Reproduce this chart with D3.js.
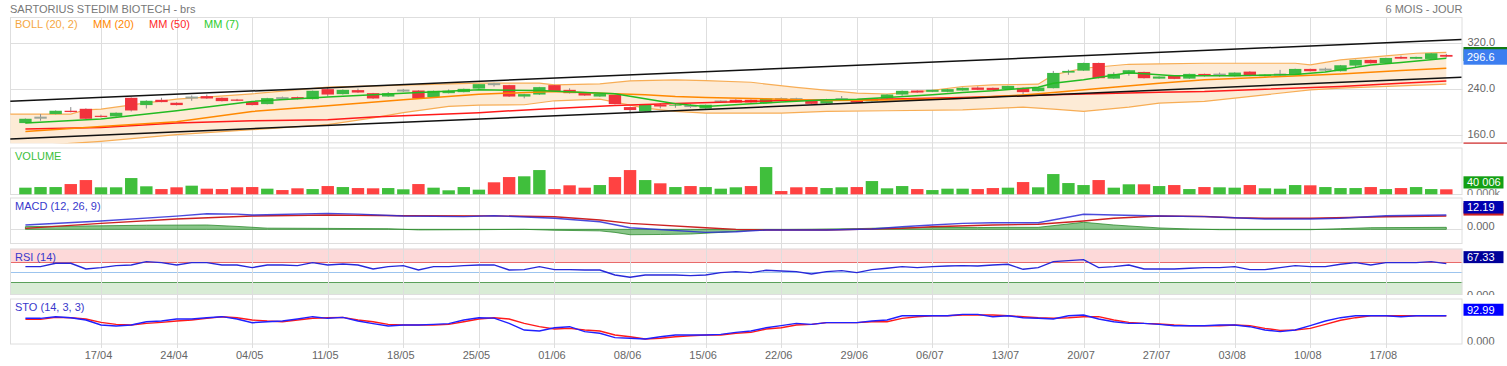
<!DOCTYPE html>
<html><head><meta charset="utf-8">
<script src="https://cdn.jsdelivr.net/npm/d3@7/dist/d3.min.js"></script>
<style>
body{margin:0;background:#fff;}
svg{display:block;font-family:"Liberation Sans",Arial,sans-serif;}
</style></head><body>
<svg id="c" width="1507" height="366"></svg>
<script>
// ---------------- DATA ----------------
const title = "SARTORIUS STEDIM BIOTECH - brs";
const period = "6 MOIS - JOUR";
const dateLabels = ["17/04","24/04","04/05","11/05","18/05","25/05","01/06","08/06","15/06","22/06","29/06","06/07","13/07","20/07","27/07","03/08","10/08","17/08"];
const dateLabelIdx = [5,10,15,20,25,30,35,40,45,50,55,60,65,70,75,80,85,90];
const priceTicks = [160,240,320];

const opens  = [180.8,189.8,196.5,202.3,205.7,193.5,192.4,224.9,212.2,221.4,216.2,225,227.8,224.9,221.9,217.9,213.9,224,226.1,222.6,240,231.3,238.3,233,227.1,237.3,237.6,226.1,233,234.8,241,248.4,247,227.1,230.6,247,238.8,233.6,227.1,230,208.7,201,212.7,211.2,210.2,206.3,218.2,221.4,221.4,215.6,222.3,222.3,220.2,215,222.3,221.4,219.1,223.7,230.6,237.6,235.3,235.3,237.6,242.8,242.3,240,242.3,236.5,241.7,268.9,272.3,285.7,258.4,266.6,270,258.4,263.1,258.4,266.6,265,262.6,270.6,262.6,265.2,265.4,275.3,273.8,271.3,281.1,291,285.2,296.2,293,292.7,299.7];
const highs  = [188.8,196.5,203,208.7,206.5,195.5,199.5,225.5,220.5,224.9,217,228.9,230.6,225.5,223,218.5,224.9,227,227,237.5,243.5,239.5,241,233.5,235,240.5,238,237.5,239.5,241,249,251,247.5,231.8,244,247.5,241.5,234,232.3,230.5,209.2,213.2,215.5,214.5,213.5,213,220.5,222.5,222,224.2,225.5,225,220.7,223.1,228,222,224.2,231.1,237.6,238.1,239.3,240.5,242.8,245,242.8,246.2,242.8,243.3,271.8,274,286.2,286.2,269.5,273.5,270.5,262.5,263.6,267.1,267.1,268.9,269.4,271.1,266,273.6,275.8,275.8,277.5,282.2,291.5,291.5,294.9,298.5,296.7,303.1,301.5];
const lows   = [180.3,185,196,199.5,188,190.5,192,201,206.3,217,211.5,219.7,223,218.5,219.2,211.5,213.5,221.5,222,222,227.1,230.5,233.5,223,226.5,235,223,225.5,232.5,234.3,240.5,244.5,226.5,224,230,235.3,232.5,228.4,226.5,213.4,199.3,200.5,206.5,207.5,207.5,205.8,216.5,216.2,216.2,215,218.5,220.5,213.9,214.5,220,216.2,218.6,223.2,228.4,233.6,234.8,234.8,237.1,238.3,237.8,239.5,230.5,236,241.2,265,271.8,258.6,257.9,263.5,258.6,257.9,257.4,257.9,262,261.7,262.1,262.6,262.1,262.6,264.9,270.8,270.5,270.8,278.5,284.7,284.7,292.7,292.5,292.2,295.2];
const closes = [188.3,190.6,202.3,200,188.3,191.5,198.8,202.8,219.7,217.4,212.2,225.6,223.7,219.1,219.7,212.2,224.3,224.5,222.6,237.1,230.6,238.8,234.1,223.7,233,237.8,223.7,237.1,237.1,240.5,248.7,249,227.1,231.3,243.5,235.8,233,228.9,231.8,213.9,203.5,212.7,209.7,212.4,210.7,212.7,218.7,216.7,216.7,223.7,222.9,222.8,214.4,222.6,222.8,216.7,223.7,230.6,237.1,234.1,238.8,240,242.3,238.8,238.3,245.7,234.8,242.8,268.3,271.8,285.7,259.1,266.6,273,259.1,262,257.9,266.6,264.3,265.6,268.9,263.1,265.4,265.6,275.3,271.3,274.3,281.7,291,285.2,294.4,293.2,296.2,302.6,296.6];

// volume in thousands, and up (1) / down (0) colour flag
const volumes = [53,58,58,82,114,56,56,130,64,42,56,69,45,42,56,58,45,34,48,42,66,58,50,48,50,40,82,53,32,58,37,96,138,144,194,42,72,53,74,138,194,114,88,58,66,58,45,56,66,218,26,56,58,50,56,58,106,48,66,42,34,45,45,42,50,53,98,56,162,90,74,114,53,80,80,66,74,42,58,56,53,74,48,45,74,72,58,50,50,58,42,50,58,42,40];
const volUp   = [1,1,1,0,0,1,1,1,1,0,0,1,0,0,0,0,1,0,0,1,0,1,0,0,1,1,0,1,1,1,1,0,0,1,1,0,0,0,1,0,0,1,0,1,0,1,1,1,0,1,0,0,0,1,1,0,1,1,1,0,1,1,1,0,0,1,0,1,1,1,1,0,1,1,0,1,0,1,0,1,1,0,1,1,1,0,1,1,1,0,1,0,1,1,0];
const lastVolumeLabel = "40 006";

// Bollinger (20,2) bands and moving averages, sampled (day index, value)
const bbUpIdx = [-1,3,4,5,8,10,15,20,25,30,34,35,38,40,43,45,48,51,55,57,60,62,64,67,68,70,73,75,78,84,85,87,90,92,94];
const bbUp    = [196.5,196.5,204,205,216,222.6,231.8,243.4,247,250.4,250.4,247.5,249.2,254.4,256.2,255,252,243,233,231.5,238,244.6,247.5,248.6,264.9,276.5,283.4,284,285.2,285.2,282.3,291,297.9,302.6,304.3];
const bbLoIdx = [-1,3,5,10,15,20,23,25,28,30,33,35,38,41,43,45,50,53,57,62,66,68,70,73,75,78,82,85,87,91,94];
const bbLo    = [138,145.5,149,160.5,169.2,178,190,199,209.9,212.2,212.8,219.7,222.6,207,201.2,198.3,198.3,201.2,202.3,204,208.6,205.2,201.2,208.6,215.6,218.5,230.1,238.8,241.7,245.7,248.6];
const mm20Idx = [0,5,10,15,20,25,30,35,39,41,43,45,50,53,57,62,66,68,71,75,78,82,87,91,94];
const mm20    = [166.3,175,183.1,201,210.9,221.4,231.2,235.8,231.8,230.1,227.1,225.4,222.5,220.2,221,224,230,234,241,250.4,256.2,260.9,266.6,272.4,276.5];
const mm50Idx = [0,5,10,15,20,23,25,30,34,39,43,50,55,62,68,75,78,82,87,91,94];
const mm50    = [170.4,173.2,180.9,184.9,186.6,191.3,193.5,199,205,211.5,215,220,221.4,225.4,230.1,234.7,235.9,240,244.6,250.4,254.4];
const mm7Idx  = [0,5,10,15,20,25,30,34,37,39,41,43,45,48,50,53,55,57,60,62,64,67,68,70,73,76,80,84,86,89,91,94];
const mm7     = [180.9,187.8,202.3,218.5,226.1,233,238.8,237.7,234.2,231.9,223.2,214.5,209.9,214.5,217.4,221.4,222.5,225.4,230.1,234.2,237.1,243.4,250.4,256.2,268.5,263.5,263.5,265.5,270,282,286.4,293.9];

// channel trend lines (day index at both ends, price)
const trendIdx   = [-1,95];
const trendUpper = [218.8,326.6];
const trendLower = [153,260.9];

// MACD (12,26,9)
const macdIdx = [0,5,10,12,14,15,20,22,25,29,31,35,38,40,45,47,49,53,56,58,60,62,64,67,70,72,75,78,80,82,85,87,90,94];
const macd    = [3.7,7.1,11.3,13.3,13,12.2,13.6,13,11.3,10.8,11.6,9.4,6.5,1.4,-2.6,-2,-0.6,-0.6,0.3,2.2,3.7,5.1,5.6,5.6,12.8,12.2,11.3,10.8,9.9,8.8,8.8,9.4,11.6,12.2];
const sigIdx  = [0,5,10,15,20,25,31,35,38,40,45,47,49,53,58,60,64,67,70,72,75,78,80,82,85,90,94];
const signal  = [0.85,5.1,8.8,11.3,12.2,11.6,11.5,10.7,7.9,5.1,1.4,0,-0.6,-0.6,0.85,2.2,3.7,4.3,7.1,9.4,11.3,11,9.9,9.4,9.4,10.7,11.3];
const histIdx = [0,5,8,12,14,16,20,24,26,30,33,35,38,39,40,42,44,46,48,49,52,55,57,60,63,65,67,70,72,75,77,79,85,87,89,94];
const hist    = [2.3,3,3.5,3.7,2.5,1,0.8,0.5,-0.5,-0.3,0,-0.8,-1.3,-2.6,-4.6,-4.4,-4,-2.6,-0.9,-0.3,0,0.6,1.2,1.7,1.5,1.7,1.7,6,3.7,1.2,0.3,-0.3,-0.3,0.5,1.4,1.7];
const macdLabel = "12.19";

// RSI (14)
const rsi = [61.3,61.3,68,68,56.6,59.3,63.3,64.7,71.3,69.3,64.7,69.3,69.3,64.7,64.7,59.3,64.7,64.7,63.3,69.3,64.7,66.7,64.7,56.6,61.3,63.3,54.6,61.3,61.3,63.3,64.7,64.7,54.6,55.3,61.3,55.3,55.3,54.6,54.6,44.6,40,44.6,44.6,44.6,43.3,44.6,49.3,51.3,49.3,54,52.6,51.3,46.6,51.3,53.3,49.3,55.3,58,61.3,59.3,61.3,62.6,63.3,62.6,64.7,66,56,59.3,71.3,73.3,75.3,59.3,61.3,64.7,56.6,56.6,56.6,58,59.3,59.3,61.3,55.3,55.3,59.3,63.3,61.3,61.3,66,69.3,64.7,69.3,69.3,69.3,71.3,67.3];
const rsiLevels = [30,50,70];
const rsiLabel = "67.33";

// Stochastic (14,3,3)
const stoK = [84.5,84.5,89.9,86.6,79,62.5,59.2,62.5,73.4,75.6,82.2,82.2,86.6,89.9,82.2,70.2,73.4,75.6,82.2,89.9,84.5,87.7,75.6,66.9,59.2,62.5,62.5,64.7,66.9,79,86.6,85,68,46,42.8,53.6,57,40.6,35.2,20.9,18.8,16.4,24.1,29.6,29.6,29.6,31.8,38.4,42.8,53.6,60.3,68,64.7,70.2,70.2,70.2,75.6,79,93,93,93,93,97.6,97.6,89.9,93,86.6,84.5,82.2,93,95.4,82.2,73.4,68,68,64.7,60.3,60.3,60.3,62.5,62.5,57,46,40.6,46,60.3,75.6,86.6,93,93,93,89.9,93,93,93];
const stoD = [81.1,81.1,87.7,86.6,82.2,71.3,64.7,62.5,68,71.3,75.6,79,84.5,89.9,86.6,79,75.6,73.4,79,84.5,86.6,87.7,79,73.4,64.7,62.5,62.5,62.5,64.7,73.4,82.2,86.6,82.2,68,57,49.3,51.5,46,42.8,29.6,24.1,16.4,18.8,24.1,27.4,29.6,29.6,35.2,38.4,49.3,53.6,62.5,64.7,70.2,70.2,70.2,73.4,73.4,84.5,89.9,93,93,95.4,95.4,95.4,93,89.9,86.6,84.5,86.6,89.9,89.9,79,71.3,68,66,62.5,60.3,60.3,60.3,62.5,60.3,51.5,45,46,51.5,64.7,78,86.6,93,93,93,93,93,93];
const stoLabel = "92.99";

// ---------------- CHART ----------------
const svg = d3.select("#c");
const L = 10, R = 1462.5, W = 1507;
const C = {grid:"#dedede", up:"#3cba45", down:"#f0323c", vUp:"#40bf3c", vDown:"#ff4242",
  bbLine:"#f7ad55", bbFill:"#fdebd6", mm20:"#ff8800", mm50:"#ff1a1a", mm7:"#22bb22", text:"#666", blue:"#3838cc"};
const x = d3.scaleLinear().domain([-1.02, 95.07]).range([L, R]);
const P = {
  p:{top:17, bot:143.3}, v:{top:147.5, bot:195}, m:{top:197.5, bot:244},
  r:{top:248.5, bot:295}, s:{top:298.5, bot:344.5}};
const yP = d3.scaleLinear().domain([145.5, 365.9]).range([143.3, 17]);
const yV = d3.scaleLinear().domain([0, 373]).range([194.3, 147.7]);
const yM = d3.scaleLinear().domain([-12.5, 27.3]).range([244, 197.3]);
const yR = d3.scaleLinear().domain([4.6, 97.6]).range([295, 248.5]);
const yS = d3.scaleLinear().domain([-1.6, 149.7]).range([344.5, 298.5]);

const defs = svg.append("defs");
Object.entries(P).forEach(([k,p])=>{
  defs.append("clipPath").attr("id","clip-"+k).append("rect")
    .attr("x",L).attr("y",p.top).attr("width",R-L).attr("height",p.bot-p.top);
  defs.append("clipPath").attr("id","lab-"+k).append("rect")
    .attr("x",R).attr("y",p.top-4).attr("width",W-R).attr("height",p.bot-p.top+4);
});

// RSI zones
const gr = svg.append("g").attr("clip-path","url(#clip-r)");
gr.append("rect").attr("x",L).attr("width",R-L).attr("y",P.r.top).attr("height",yR(70)-P.r.top).attr("fill","#fdd9d9");
gr.append("rect").attr("x",L).attr("width",R-L).attr("y",yR(30)).attr("height",P.r.bot-yR(30)).attr("fill","#d9ecd6");
const lvlCol = {30:"#5aa05a",50:"#9cc4ee",70:"#e86a6a"};
gr.selectAll("line.lvl").data(rsiLevels).join("line").attr("x1",L).attr("x2",R)
  .attr("y1",d=>Math.round(yR(d))+0.5).attr("y2",d=>Math.round(yR(d))+0.5).attr("stroke",d=>lvlCol[d]).attr("stroke-width",1);

// vertical grid + x axis
const xAxis = d3.axisBottom(x).tickValues(dateLabelIdx).tickFormat((d,i)=>dateLabels[i]).tickSize(0).tickPadding(0);
const gx = svg.append("g").attr("transform","translate(-3,351)").call(xAxis);
gx.select(".domain").remove();
gx.selectAll("text").attr("fill",C.text).attr("font-size",11).attr("font-family","'Liberation Sans',Arial,sans-serif").attr("dy","0.71em");
svg.append("g").selectAll("line").data(dateLabelIdx).join("line")
  .attr("x1",d=>Math.round(x(d))+0.5).attr("x2",d=>Math.round(x(d))+0.5)
  .attr("y1",P.p.top).attr("y2",348).attr("stroke",C.grid);

// price horizontal grid + right axis
svg.append("g").selectAll("line").data(priceTicks).join("line")
  .attr("x1",L).attr("x2",R).attr("y1",d=>Math.round(yP(d))+0.5).attr("y2",d=>Math.round(yP(d))+0.5).attr("stroke",C.grid);
const yAxis = d3.axisRight(yP).tickValues(priceTicks).tickFormat(d3.format(".1f")).tickSize(0).tickPadding(5);
const gy = svg.append("g").attr("transform",`translate(${R},0)`).call(yAxis);
gy.select(".domain").remove();
gy.selectAll("text").attr("fill",C.text).attr("font-size",11).attr("font-family","'Liberation Sans',Arial,sans-serif").attr("dy","0.2em");

// MACD zero line
svg.append("line").attr("x1",L).attr("x2",R).attr("y1",Math.round(yM(0))+0.5).attr("y2",Math.round(yM(0))+0.5).attr("stroke",C.grid);

// panel borders
svg.append("g").selectAll("rect").data(Object.values(P)).join("rect")
  .attr("x",L+0.5).attr("y",d=>d.top+0.5).attr("width",R-L-1).attr("height",d=>d.bot-d.top-1)
  .attr("fill","none").attr("stroke",C.grid);

const pts = (idx, vals) => idx.map((d,k)=>[d, vals[k]]);
const line = ys => d3.line().x(d=>x(d[0])).y(d=>ys(d[1]));

// ---- price panel ----
const gp = svg.append("g").attr("clip-path","url(#clip-p)");
const upPts = pts(bbUpIdx, bbUp), loPts = pts(bbLoIdx, bbLo);
gp.append("path").attr("d", line(yP)(upPts.concat(loPts.slice().reverse()))+"Z").attr("fill",C.bbFill);
gp.append("path").attr("d", line(yP)(upPts)).attr("fill","none").attr("stroke",C.bbLine).attr("stroke-width",1.2);
gp.append("path").attr("d", line(yP)(loPts)).attr("fill","none").attr("stroke",C.bbLine).attr("stroke-width",1.2);

const bw = (x(1)-x(0))*0.82;
const candles = opens.map((o,i)=>({i,o,h:highs[i],l:lows[i],c:closes[i]}));
gp.selectAll("line.wick").data(candles).join("line").attr("class","wick")
  .attr("x1",d=>x(d.i)).attr("x2",d=>x(d.i)).attr("y1",d=>yP(d.h)).attr("y2",d=>yP(d.l))
  .attr("stroke","#8c8c8c").attr("stroke-width",1);
gp.selectAll("rect.body").data(candles).join("rect").attr("class","body")
  .attr("x",d=>x(d.i)-bw/2).attr("width",bw)
  .attr("y",d=>Math.abs(d.c-d.o)<0.8 ? yP((d.o+d.c)/2)-1 : yP(Math.max(d.o,d.c)))
  .attr("height",d=>Math.abs(d.c-d.o)<0.8 ? 2 : Math.abs(yP(d.o)-yP(d.c)))
  .attr("fill",d=>Math.abs(d.c-d.o)<0.8 ? "#9aa59a" : (d.c>d.o ? C.up : C.down));

gp.append("path").attr("d", line(yP)(pts(mm50Idx, mm50))).attr("fill","none").attr("stroke",C.mm50).attr("stroke-width",1.5);
gp.append("path").attr("d", line(yP)(pts(mm20Idx, mm20))).attr("fill","none").attr("stroke",C.mm20).attr("stroke-width",1.5);
gp.append("path").attr("d", line(yP)(pts(mm7Idx, mm7))).attr("fill","none").attr("stroke",C.mm7).attr("stroke-width",1.5);
gp.append("path").attr("d", line(yP)(pts(trendIdx, trendUpper))).attr("fill","none").attr("stroke","#111").attr("stroke-width",1.5);
gp.append("path").attr("d", line(yP)(pts(trendIdx, trendLower))).attr("fill","none").attr("stroke","#111").attr("stroke-width",1.5);

// ---- volume ----
const gv = svg.append("g").attr("clip-path","url(#clip-v)");
gv.selectAll("rect").data(volumes).join("rect")
  .attr("x",(d,i)=>x(i)-bw/2).attr("width",bw)
  .attr("y",d=>yV(d)).attr("height",d=>yV(0)-yV(d))
  .attr("fill",(d,i)=>volUp[i] ? C.vUp : C.vDown);

// ---- MACD ----
const gm = svg.append("g").attr("clip-path","url(#clip-m)");
gm.append("path").attr("d", d3.area().x(d=>x(d[0])).y0(yM(0)).y1(d=>yM(d[1]))(pts(histIdx, hist)))
  .attr("fill","rgba(40,150,40,0.55)").attr("stroke","#2e8b2e").attr("stroke-width",0.8);
gm.append("path").attr("d", line(yM)(pts(sigIdx, signal))).attr("fill","none").attr("stroke","#cc2222").attr("stroke-width",1.4);
gm.append("path").attr("d", line(yM)(pts(macdIdx, macd))).attr("fill","none").attr("stroke","#2a2ad6").attr("stroke-width",1.4).attr("opacity",0.85);

// ---- RSI ----
const gR = svg.append("g").attr("clip-path","url(#clip-r)");
gR.append("path").attr("d", d3.line().x((d,i)=>x(i)).y(d=>yR(d))(rsi)).attr("fill","none").attr("stroke","#2828d8").attr("stroke-width",1.4);

// ---- STO ----
const gS = svg.append("g").attr("clip-path","url(#clip-s)");
gS.append("path").attr("d", d3.line().x((d,i)=>x(i)).y(d=>yS(d))(stoD)).attr("fill","none").attr("stroke","#ff1a1a").attr("stroke-width",1.4);
gS.append("path").attr("d", d3.line().x((d,i)=>x(i)).y(d=>yS(d))(stoK)).attr("fill","none").attr("stroke","#2020ff").attr("stroke-width",1.4);

// ---- texts ----
const font = "'Liberation Sans',Arial,sans-serif";
const txt = (g,xx,yy,s,col,anchor) => g.append("text").attr("x",xx).attr("y",yy).text(s)
  .attr("fill",col).attr("font-size",11).attr("font-family",font).attr("text-anchor",anchor||"start");
txt(svg,10,13,title,"#777");
txt(svg,R,13,period,"#777","end");
const legend = [["BOLL (20, 2)","#f5a742",15],["MM (20)","#ff8800",93],["MM (50)","#ff2a2a",149],["MM (7)","#2ecc2e",204]];
legend.forEach(l=>txt(svg,l[2],28,l[0],l[1]));
txt(svg,15,160,"VOLUME","#3cbf3c");
txt(svg,15,209.5,"MACD (12, 26, 9)",C.blue);
txt(svg,15,261,"RSI (14)",C.blue);
txt(svg,15,311,"STO (14, 3, 3)",C.blue);

// right side value labels
const box = (g,y0,y1,col,s,x1) => {
  g.append("rect").attr("x",R+1).attr("y",y0).attr("width",(x1||1503.5)-R-1).attr("height",y1-y0).attr("fill",col);
  if (s) txt(g,R+4.5,(y0+y1)/2+4,s,"#fff");
};
const gl = svg.append("g");
box(gl,47,61,"#127a12",null,1507);
const lp = yP(closes[closes.length-1]);
box(gl,lp-7.5,lp+8,"#3c7ef0",d3.format(".1f")(closes[closes.length-1]),1507);
gl.append("rect").attr("x",R+1).attr("y",142.5).attr("width",W-R-1).attr("height",1.2).attr("fill","#cc2020");

const glv = svg.append("g").attr("clip-path","url(#lab-v)");
txt(glv,R+4.5,197,"0 000k","#777");
box(glv,yV(volumes[volumes.length-1])-13,yV(volumes[volumes.length-1])-0.8,"#14a014",lastVolumeLabel);

const glm = svg.append("g").attr("clip-path","url(#lab-m)");
txt(glm,R+4.5,230,"0.000","#666");
box(glm,yM(11.3)-13,yM(11.3)-0.5,"#cc2020",null);
box(glm,yM(12.19)-14,yM(12.19)-1.5,"#0000b0",macdLabel);

const glr = svg.append("g").attr("clip-path","url(#lab-r)");
txt(glr,R+4.5,299,"0.000","#666");
box(glr,yR(67.33)-12.5,yR(67.33)-0.5,"#000099",rsiLabel);

const gls = svg.append("g").attr("clip-path","url(#lab-s)");
txt(gls,R+4.5,345,"0.000","#666");
box(gls,yS(92.99)-12,yS(92.99),"#0000ff",stoLabel);
</script>
</body></html>
